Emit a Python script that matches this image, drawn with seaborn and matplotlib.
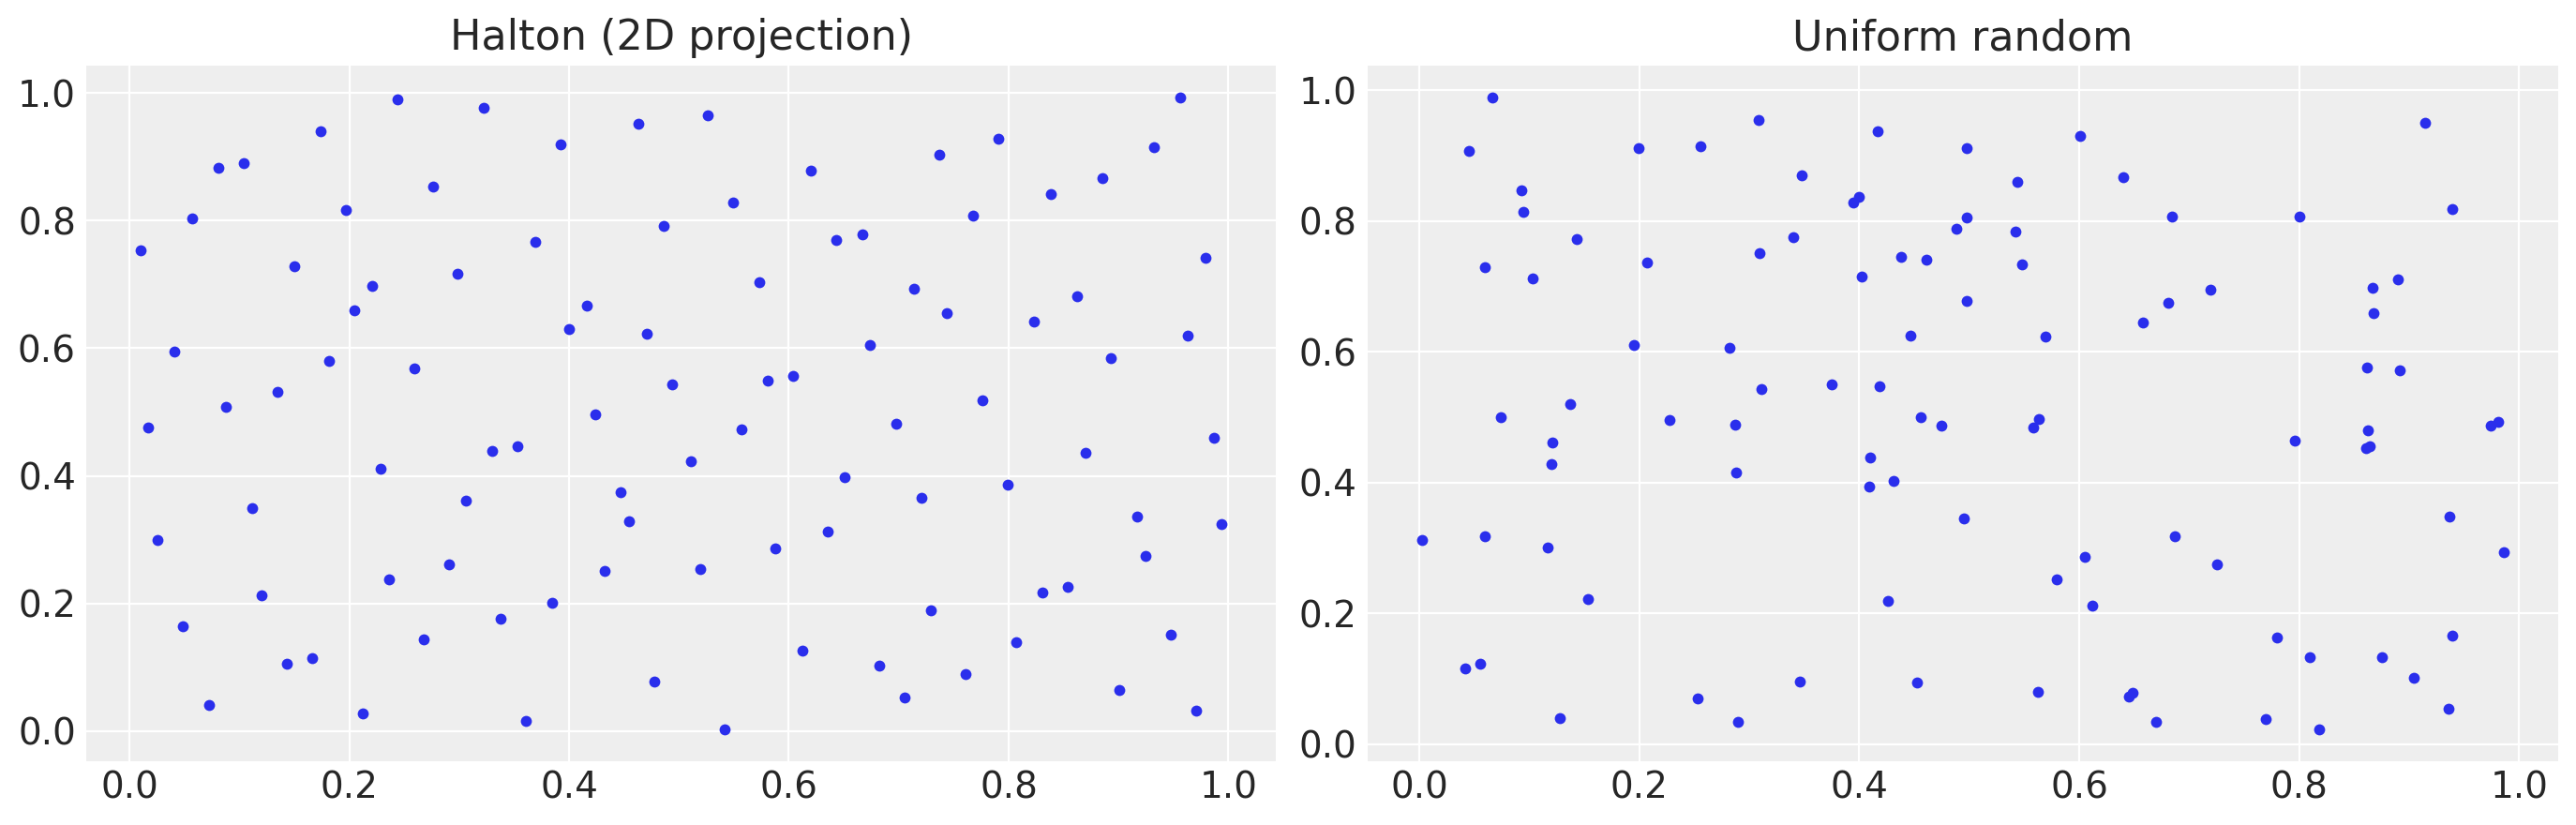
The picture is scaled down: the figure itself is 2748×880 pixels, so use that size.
import matplotlib
matplotlib.use("Agg")
import matplotlib.pyplot as plt
import seaborn as sns

# Halton (2D projection) の点
halton_x = [0.010, 0.057, 0.081, 0.104, 0.174, 0.150, 0.197, 0.244, 0.276, 0.3225,
            0.2986, 0.221, 0.205, 0.3695, 0.392, 0.416, 0.400, 0.463, 0.4865, 0.471,
            0.494, 0.041, 0.182, 0.2595, 0.135, 0.088, 0.424, 0.017, 0.526, 0.620,
            0.5495, 0.737, 0.791, 0.932, 0.956, 0.885, 0.838, 0.768, 0.643, 0.667,
            0.979, 0.573, 0.714, 0.744, 0.862, 0.823, 0.963, 0.674, 0.893, 0.581,
            0.604, 0.776, 0.6975, 0.557, 0.330, 0.353, 0.2286, 0.447, 0.306, 0.455,
            0.1115, 0.026, 0.291, 0.236, 0.432, 0.120, 0.385, 0.049, 0.338, 0.268,
            0.143, 0.166, 0.478, 0.0728, 0.2125, 0.361, 0.511, 0.870, 0.987, 0.651,
            0.799, 0.721, 0.917, 0.994, 0.635, 0.588, 0.9245, 0.519, 0.8305, 0.854,
            0.729, 0.9475, 0.807, 0.612, 0.6826, 0.761, 0.9006, 0.705, 0.971, 0.5417]
halton_y = [0.754, 0.804, 0.882, 0.890, 0.940, 0.729, 0.816, 0.990, 0.853, 0.976,
            0.717, 0.697, 0.660, 0.766, 0.919, 0.667, 0.630, 0.951, 0.791, 0.622,
            0.544, 0.594, 0.580, 0.569, 0.532, 0.508, 0.496, 0.476, 0.965, 0.878,
            0.828, 0.903, 0.928, 0.915, 0.993, 0.866, 0.841, 0.807, 0.770, 0.779,
            0.742, 0.704, 0.693, 0.655, 0.681, 0.642, 0.619, 0.605, 0.585, 0.5485,
            0.557, 0.5185, 0.482, 0.473, 0.439, 0.447, 0.411, 0.374, 0.361, 0.3285,
            0.349, 0.299, 0.262, 0.2375, 0.251, 0.2125, 0.2007, 0.164, 0.176, 0.1435,
            0.105, 0.114, 0.0774, 0.0406, 0.0274, 0.0157, 0.4225, 0.436, 0.459, 0.3975,
            0.3858, 0.365, 0.336, 0.324, 0.312, 0.287, 0.274, 0.2536, 0.217, 0.2257,
            0.189, 0.151, 0.139, 0.1258, 0.1023, 0.0891, 0.0641, 0.0524, 0.0318, 0.0024]

# Uniform random の点
uniform_x = [0.0666, 0.0453, 0.0932, 0.0944, 0.1435, 0.060, 0.1035, 0.1998, 0.2554, 0.2074,
             0.3083, 0.348, 0.340, 0.309, 0.395, 0.400, 0.417, 0.402, 0.4384, 0.461,
             0.488, 0.498, 0.498, 0.498, 0.4464, 0.1956, 0.2824, 0.311, 0.375, 0.4186,
             0.137, 0.0738, 0.228, 0.287, 0.4563, 0.475, 0.5437, 0.601, 0.640, 0.9147,
             0.542, 0.6845, 0.8006, 0.9395, 0.548, 0.890, 0.8668, 0.7195, 0.681, 0.868,
             0.658, 0.5696, 0.862, 0.8915, 0.5635, 0.558, 0.8626, 0.9745, 0.9806, 0.1214,
             0.1203, 0.2877, 0.4103, 0.4095, 0.4316, 0.4955, 0.0023, 0.060, 0.1165, 0.1538,
             0.4259, 0.0422, 0.0556, 0.3463, 0.4529, 0.2535, 0.1275, 0.290, 0.7956, 0.861,
             0.864, 0.9368, 0.6872, 0.6053, 0.7252, 0.9863, 0.5798, 0.6122, 0.780, 0.9395,
             0.8097, 0.8756, 0.9045, 0.5627, 0.6453, 0.6483, 0.936, 0.670, 0.7697, 0.8185]
uniform_y = [0.989, 0.907, 0.847, 0.814, 0.7725, 0.7295, 0.712, 0.9116, 0.9145, 0.737,
             0.9546, 0.870, 0.7754, 0.751, 0.8284, 0.837, 0.937, 0.715, 0.745, 0.741,
             0.788, 0.9116, 0.8055, 0.678, 0.625, 0.6105, 0.606, 0.543, 0.550, 0.5474,
             0.5197, 0.500, 0.4958, 0.4886, 0.500, 0.487, 0.860, 0.930, 0.867, 0.950,
             0.784, 0.807, 0.807, 0.8184, 0.734, 0.711, 0.698, 0.695, 0.675, 0.659,
             0.645, 0.623, 0.576, 0.572, 0.497, 0.485, 0.480, 0.487, 0.493, 0.461,
             0.428, 0.415, 0.438, 0.394, 0.402, 0.345, 0.312, 0.318, 0.3006, 0.2217,
             0.2189, 0.1157, 0.1228, 0.0956, 0.0941, 0.0698, 0.0397, 0.0339, 0.464, 0.4526,
             0.455, 0.348, 0.3178, 0.2863, 0.2748, 0.2934, 0.2519, 0.2117, 0.163, 0.1658,
             0.1329, 0.1329, 0.1013, 0.0798, 0.0736, 0.0789, 0.054, 0.0344, 0.0382, 0.0225]

titles = ["Halton (2D projection)", "Uniform random"]

sns.set_style("darkgrid", {"axes.facecolor": "#eeeeee", "grid.color": "white",
                           "axes.edgecolor": "#eeeeee"})
plt.rcParams["font.family"] = ["DejaVu Sans"]
plt.rcParams["text.color"] = "#262626"
plt.rcParams["xtick.color"] = "#262626"
plt.rcParams["ytick.color"] = "#262626"

fig = plt.figure(figsize=(13.74, 4.4), dpi=200)
ax1 = fig.add_axes([0.0335, 0.0773, 0.4618, 0.843])
ax2 = fig.add_axes([0.5309, 0.0773, 0.4622, 0.843])

for ax, xs, ys, title in [(ax1, halton_x, halton_y, titles[0]),
                          (ax2, uniform_x, uniform_y, titles[1])]:
    sns.scatterplot(x=xs, y=ys, ax=ax, color="#2a2eec", s=18, linewidth=0)
    ax.set_title(title, fontsize=16)
    ax.tick_params(axis="both", labelsize=14, length=0)
    ax.tick_params(axis="x", pad=3.5)
    ax.tick_params(axis="y", pad=4)
    ax.set_xticks([0.0, 0.2, 0.4, 0.6, 0.8, 1.0])
    ax.set_yticks([0.0, 0.2, 0.4, 0.6, 0.8, 1.0])
    ax.grid(True, color="white", linewidth=0.8)
    for sp in ax.spines.values():
        sp.set_visible(False)

fig.savefig("out.png", dpi=200)
